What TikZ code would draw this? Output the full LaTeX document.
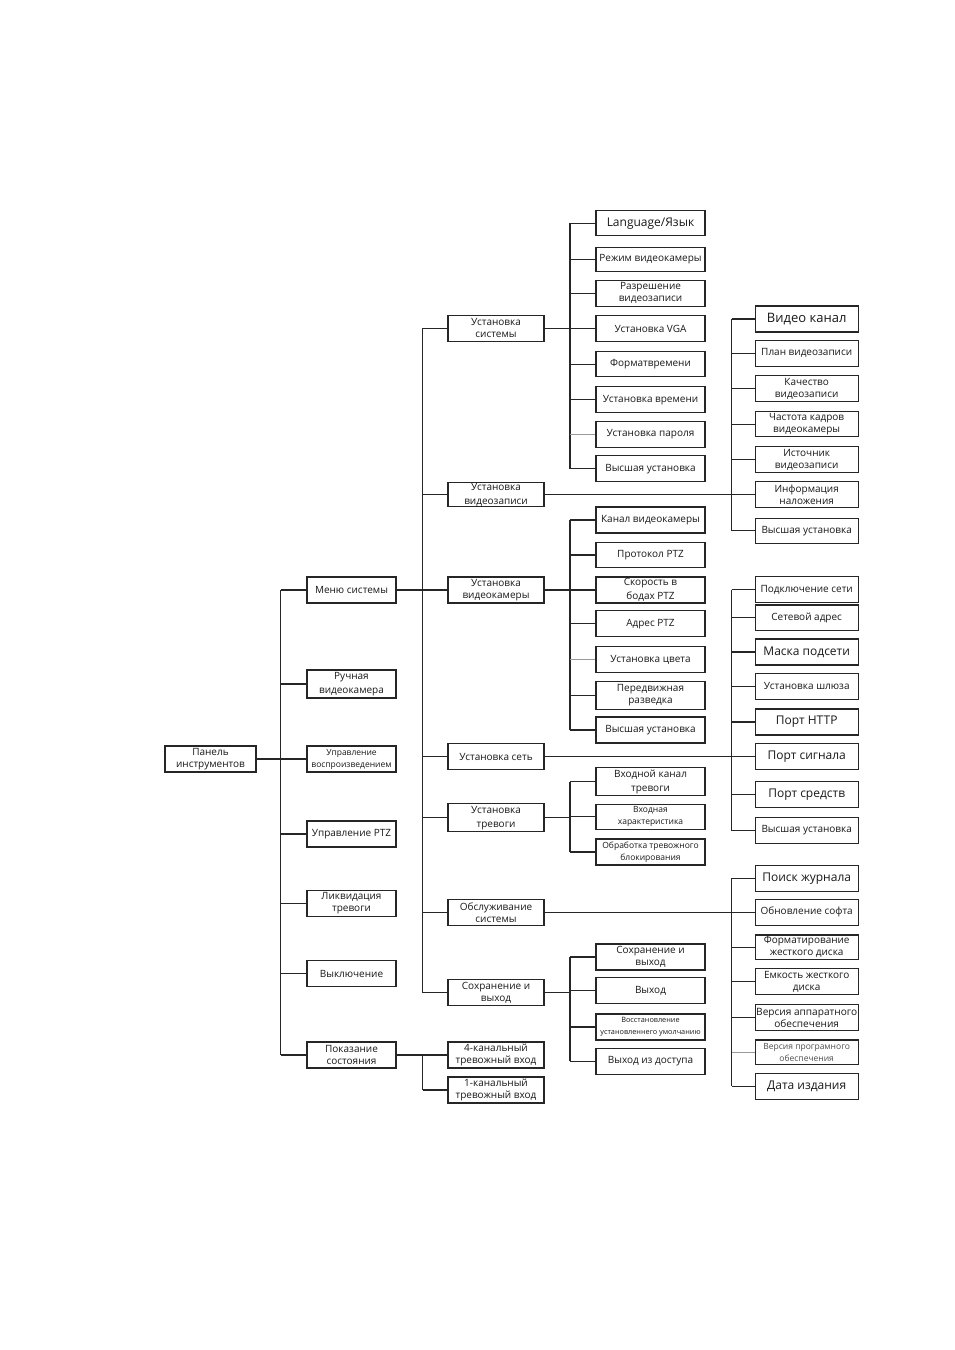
\documentclass[tikz,border=0pt]{standalone}
\usepackage{fontspec}
\setmainfont{Open Sans}
\newcommand{\dnt}[2]{\raisebox{-#1}{\begin{tabular}{@{}c@{}}#2\end{tabular}}}
\begin{document}
\begin{tikzpicture}[x=1pt,y=-1pt]
\tikzset{
  bx/.style={draw=black!85, line width=1.2pt, inner sep=0pt, align=center, minimum height=26pt, text=black!90, font=\fontsize{10}{12}\selectfont},
  f/.style={font=\fontsize{#1}{12}\selectfont},
  fw/.style={font=\fontsize{#1}{14}\selectfont},
  wr/.style={bx, minimum width=91pt},
  wa/.style={bx, minimum width=89pt},
  wb/.style={bx, minimum width=96pt},
  wc/.style={bx, minimum width=109pt},
  wd/.style={bx, minimum width=103pt},
  wire/.style={draw=black!85, line width=1.2pt},
  lwire/.style={draw=black!40, line width=1.2pt}
}
\useasboundingbox (0,0) rectangle (954,1350);
\fill[white] (0,0) rectangle (954,1350);

% root
\node[wr] (root) at (210.5,759) {Панель\\инструментов};

% level 1
\node[wa] (m1) at (351.5,590) {Меню системы};
\node[wa,fw=10] (m2) at (351.5,684) {\dnt{2pt}{Ручная\\видеокамера}};
\node[wa,f=8.5] (m3) at (351.5,759) {Управление\\воспроизведением};
\node[wa] (m4) at (351.5,834) {Управление PTZ};
\node[wa] (m5) at (351.5,903.5) {Ликвидация\\тревоги};
\node[wa] (m6) at (351.5,973.5) {Выключение};
\node[wa] (m7) at (351.5,1055) {Показание\\состояния};

% level 2
\node[wb] (s1) at (496,328.3) {Установка\\системы};
\node[wb,minimum height=24pt,fw=10] (s2) at (496,494.7) {Установка\\видеозаписи};
\node[wb] (s3) at (496,590) {Установка\\видеокамеры};
\node[wb] (s4) at (496,756.5) {Установка сеть};
\node[wb,minimum height=24pt,fw=10] (s5) at (496,817.2) {\dnt{1pt}{Установка\\тревоги}};
\node[wb] (s6) at (496,912.3) {Обслуживание\\системы};
\node[wb] (s7) at (496,992.5) {Сохранение и\\выход};
\node[wb] (s8) at (496,1055) {4-канальный\\тревожный вход};
\node[wb] (s9) at (496,1090) {1-канальный\\тревожный вход};

% level 3: system settings
\node[wc,minimum height=25pt,f=12] (a1) at (650.5,223.3) {Language/Язык};
\node[wc,minimum height=24pt] (a2) at (650.5,259.2) {Режим видеокамеры};
\node[wc] (a3) at (650.5,293.3) {Разрешение\\видеозаписи};
\node[wc] (a4) at (650.5,328.7) {Установка VGA};
\node[wc,minimum height=25pt] (a5) at (650.5,364.2) {Форматвремени};
\node[wc] (a6) at (650.5,399.7) {Установка времени};
\node[wc] (a7) at (650.5,434.3) {Установка пароля};
\node[wc] (a8) at (650.5,468.8) {Высшая установка};

% level 3: camera settings
\node[wc] (c1) at (650.5,520) {Канал видеокамеры};
\node[wc,minimum height=25pt] (c2) at (650.5,555) {Протокол PTZ};
\node[wc,fw=10] (c3) at (650.5,590) {Скорость в\\бодах PTZ};
\node[wc] (c4) at (650.5,623.8) {Адрес PTZ};
\node[wc] (c5) at (650.5,659.7) {Установка цвета};
\node[wc,minimum height=28pt] (c6) at (650.5,695.3) {\dnt{1.5pt}{Передвижная\\разведка}};
\node[wc] (c7) at (650.5,730) {Высшая установка};

% level 3: alarm
\node[wc,minimum height=25pt,fw=10] (t1) at (650.5,781.8) {\dnt{1pt}{Входной канал\\тревоги}};
\node[wc,minimum height=25pt,f=8.5] (t2) at (650.5,816.8) {Входная\\характеристика};
\node[wc,f=8.5] (t3) at (650.5,852) {Обработка тревожного\\блокирования};

% level 3: save and exit
\node[wc] (v1) at (650.5,957) {Сохранение и\\выход};
\node[wc] (v2) at (650.5,990.5) {Выход};
\node[wc,f=7.3] (v3) at (650.5,1027) {Восстановление\\установленнего умолчанию};
\node[wc] (v4) at (650.5,1061.3) {Выход из доступа};

% right column: video recording
\node[wd,f=13] (r1) at (806.7,319) {Видео канал};
\node[wd] (r2) at (806.7,353.3) {План видеозаписи};
\node[wd] (r3) at (806.7,388.8) {Качество\\видеозаписи};
\node[wd,minimum height=25pt] (r4) at (806.7,424.2) {Частота кадров\\видеокамеры};
\node[wd] (r5) at (806.7,459.7) {Источник\\видеозаписи};
\node[wd] (r6) at (806.7,494.7) {Информация\\наложения};
\node[wd,minimum height=25pt] (r7) at (806.7,530.8) {Высшая установка};

% right column: network
\node[wd,minimum height=25.5pt] (n1) at (806.7,589.5) {Подключение сети};
\node[wd,minimum height=25.5pt] (n2) at (806.7,617.8) {Сетевой адрес};
\node[wd,f=12] (n3) at (806.7,652) {Маска подсети};
\node[wd] (n4) at (806.7,686.3) {Установка шлюза};
\node[wd,f=12] (n5) at (806.7,722) {Порт HTTP};
\node[wd,f=12] (n6) at (806.7,756.5) {Порт сигнала};
\node[wd,f=12] (n7) at (806.7,794.7) {Порт средств};
\node[wd,minimum height=25.5pt] (n8) at (806.7,830.5) {Высшая установка};

% right column: maintenance
\node[wd,f=12] (p1) at (806.7,878.3) {Поиск журнала};
\node[wd] (p2) at (806.7,912.3) {Обновление софта};
\node[wd,minimum height=24.5pt] (p3) at (806.7,947.2) {Форматирование\\жесткого диска};
\node[wd] (p4) at (806.7,981.7) {Емкость жесткого\\диска};
\node[wd,f=10.1] (p5) at (806.7,1017.8) {Версия аппаратного\\обеспечения};
\node[wd,minimum height=24.5pt,f=8.5,text=black!70] (p6) at (806.7,1052.2) {Версия програмного\\обеспечения};
\node[wd,f=12] (p7) at (806.7,1086.3) {Дата издания};

% buses
\coordinate (bA) at (280.5,0);
\coordinate (bB) at (422.5,0);
\coordinate (bC) at (570,0);
\coordinate (bD) at (731.7,0);

% root -> level 1
\draw[wire] (root.east) -- (root.east -| bA);
\draw[wire] (bA |- m1.west) -- (bA |- m7.west);
\foreach \n in {m1,m2,m3,m4,m5,m6,m7} \draw[wire] (bA |- \n.west) -- (\n.west);

% menu -> level 2
\draw[wire] (m1.east) -- (m1.east -| bB);
\draw[wire] (bB |- s1.west) -- (bB |- s7.west);
\foreach \n in {s1,s2,s3,s4,s5,s6,s7} \draw[wire] (bB |- \n.west) -- (\n.west);

% status -> level 2
\draw[wire] (m7.east) -- (m7.east -| bB);
\draw[wire] (bB |- s8.west) -- (bB |- s9.west);
\foreach \n in {s8,s9} \draw[wire] (bB |- \n.west) -- (\n.west);

% system settings
\draw[wire] (s1.east) -- (s1.east -| bC);
\draw[wire] (bC |- a1.west) -- (bC |- a8.west);
\foreach \n in {a1,a2,a3,a4,a5,a6,a8} \draw[wire] (bC |- \n.west) -- (\n.west);
\draw[lwire] (bC |- a7.west) -- (a7.west);

% camera settings
\draw[wire] (s3.east) -- (s3.east -| bC);
\draw[wire] (bC |- c1.west) -- (bC |- c7.west);
\foreach \n in {c1,c2,c3,c4,c6,c7} \draw[wire] (bC |- \n.west) -- (\n.west);
\draw[lwire] (bC |- c5.west) -- (c5.west);

% alarm
\draw[wire] (s5.east) -- (s5.east -| bC);
\draw[wire] (bC |- t1.west) -- (bC |- t3.west);
\foreach \n in {t1,t2,t3} \draw[wire] (bC |- \n.west) -- (\n.west);

% save and exit
\draw[wire] (s7.east) -- (s7.east -| bC);
\draw[wire] (bC |- v1.west) -- (bC |- v4.west);
\foreach \n in {v1,v2,v3,v4} \draw[wire] (bC |- \n.west) -- (\n.west);

% video recording
\draw[wire] (s2.east) -- (s2.east -| bD);
\draw[wire] (bD |- r1.west) -- (bD |- r7.west);
\foreach \n in {r1,r2,r3,r4,r5,r6,r7} \draw[wire] (bD |- \n.west) -- (\n.west);

% network
\draw[wire] (s4.east) -- (s4.east -| bD);
\draw[wire] (bD |- n1.west) -- (bD |- n8.west);
\foreach \n in {n1,n2,n3,n4,n5,n6,n7,n8} \draw[wire] (bD |- \n.west) -- (\n.west);

% maintenance
\draw[wire] (s6.east) -- (s6.east -| bD);
\draw[wire] (bD |- p1.west) -- (bD |- p7.west);
\foreach \n in {p1,p2,p3,p4,p5,p7} \draw[wire] (bD |- \n.west) -- (\n.west);
\draw[lwire] (bD |- p6.west) -- (p6.west);
\end{tikzpicture}
\end{document}
